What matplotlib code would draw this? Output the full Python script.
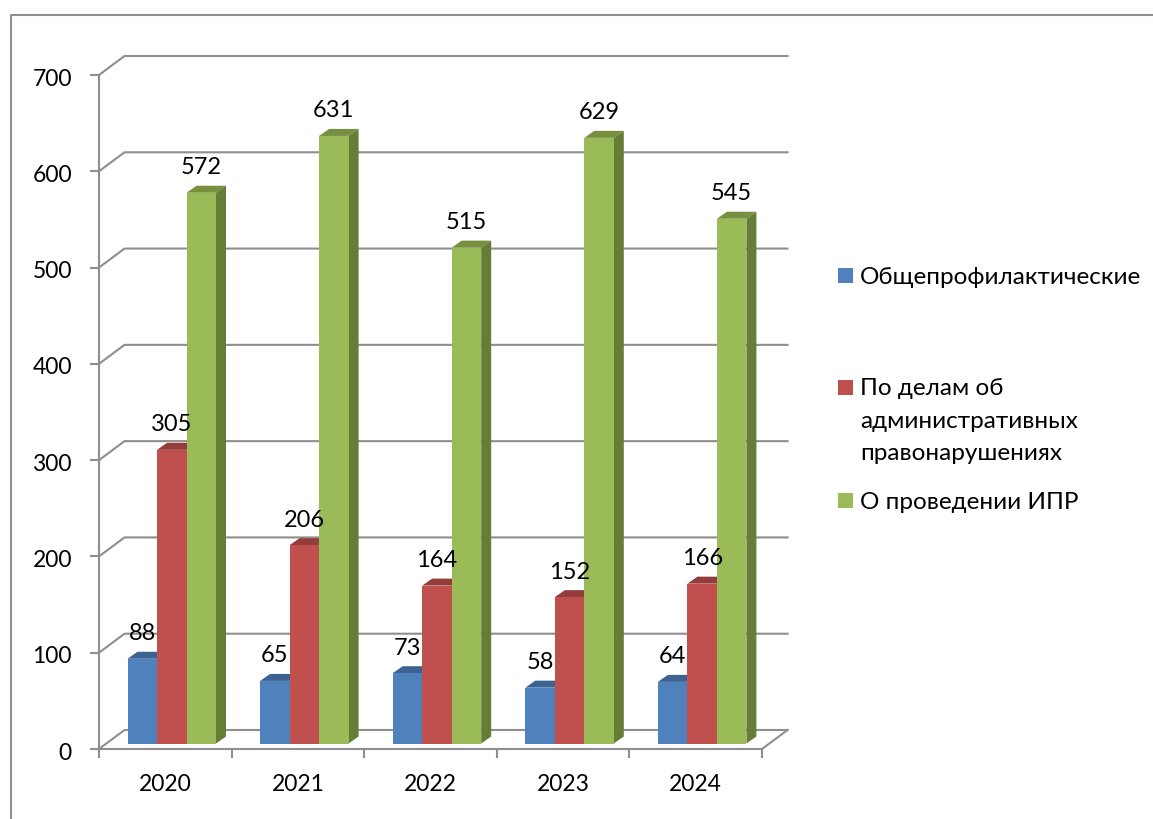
import matplotlib
matplotlib.use("Agg")
import matplotlib.pyplot as plt
from matplotlib.patches import Rectangle
from matplotlib.transforms import ScaledTranslation

plt.rcParams['font.family'] = ['Lato', 'Noto Sans', 'DejaVu Sans']

years = ["2020", "2021", "2022", "2023", "2024"]
general = [88, 65, 73, 58, 64]
admin = [305, 206, 164, 152, 166]
ipr = [572, 631, 515, 629, 545]
y_ticks = [0, 100, 200, 300, 400, 500, 600, 700]
legend_labels = ["Общепрофилактические",
                 "По делам об\nадминистративных\nправонарушениях",
                 "О проведении ИПР"]

front = ["#4f81bd", "#c0504d", "#9bbb59"]
top = ["#3b6291", "#933c3a", "#77903f"]
side = ["#3a5f8c", "#8e3a38", "#667d38"]
grey = "#8e8e8e"
W, H = 1153, 819

fig = plt.figure(figsize=(W / 100, H / 100), dpi=100)

# pixel overlay for the outer border and legend
over = fig.add_axes([0, 0, 1, 1], zorder=3)
over.set_xlim(0, W)
over.set_ylim(H, 0)
over.axis("off")

# main axes, placed so the front axis runs 99..762 px and 749..75 px
ax = fig.add_axes([99 / W, 1 - 749 / H, 663 / W, 674 / H], zorder=2)
ax.set_xlim(0, 5)
ax.set_ylim(0, 700)
ax.patch.set_alpha(0)
for s in ax.spines.values():
    s.set_visible(False)

px = 5 / 663
py = 700 / 674
back_x, back_y = 25.5 * px, 19 * py
lw = 1.5

# walls and gridlines
ax.plot([0, 0], [0, 700], color=grey, lw=lw, clip_on=False, zorder=1)
ax.plot([0, 5], [0, 0], color=grey, lw=lw, clip_on=False, zorder=1)
ax.plot([5, 5 + back_x], [0, back_y], color=grey, lw=lw, clip_on=False, zorder=1)
for t in y_ticks:
    ax.plot([0, back_x, 5 + back_x], [t, t + back_y, t + back_y],
            color=grey, lw=lw, clip_on=False, zorder=1)

ax.set_yticks(y_ticks)
ax.set_xticks(range(6))
ax.set_xticks([i + 0.5 for i in range(5)], years, minor=True)
ax.set_xticklabels([])
ax.tick_params(axis="y", length=6.5, width=lw, color=grey, labelsize=16.5, pad=13)
ax.tick_params(axis="x", which="major", length=6.5, width=lw, color=grey)
ax.tick_params(axis="x", which="minor", length=0, labelsize=16.5, pad=18)
for lab in ax.get_yticklabels():
    lab.set_transform(lab.get_transform() + ScaledTranslation(0, -0.02, fig.dpi_scale_trans))

# bars with fake 3d faces
bar_w = 29.5 * px
start = 28.5 * px
base = 5.5 * py
depth_x, depth_y = 10 * px, 7 * py
series = [general, admin, ipr]
for k in range(3):
    xs = [i + start + k * bar_w for i in range(5)]
    ax.bar(xs, series[k], width=bar_w, bottom=base, align="edge",
           color=front[k], zorder=5 + k * 0.1, clip_on=False)
    for x, v in zip(xs, series[k]):
        t = v + base
        ax.fill([x, x + depth_x, x + bar_w + depth_x, x + bar_w],
                [t, t + depth_y, t + depth_y, t],
                color=top[k], lw=0, zorder=4, clip_on=False)
        ax.fill([x + bar_w, x + bar_w + depth_x, x + bar_w + depth_x, x + bar_w],
                [base, base + depth_y, t + depth_y, t],
                color=side[k], lw=0, zorder=4, clip_on=False)
        ax.text(x + bar_w / 2, t + 25 * py, str(v), ha="center", va="center",
                fontsize=17, color="black", zorder=8, clip_on=False)

# outer border
over.plot([11, 11, W], [H, 15, 15], color=grey, lw=1.5)

# legend
swatch_y = [275, 387, 500]
text_y = [277, 388, 502]
for c, sy, ty, lab in zip(front, swatch_y, text_y, legend_labels):
    over.add_patch(Rectangle((838, sy - 7.5), 15, 15, color=c, lw=0))
    over.text(860, ty - 10, lab, ha="left", va="top", fontsize=17.5,
              linespacing=1.68, color="black")

fig.savefig("out.png", dpi=100)
